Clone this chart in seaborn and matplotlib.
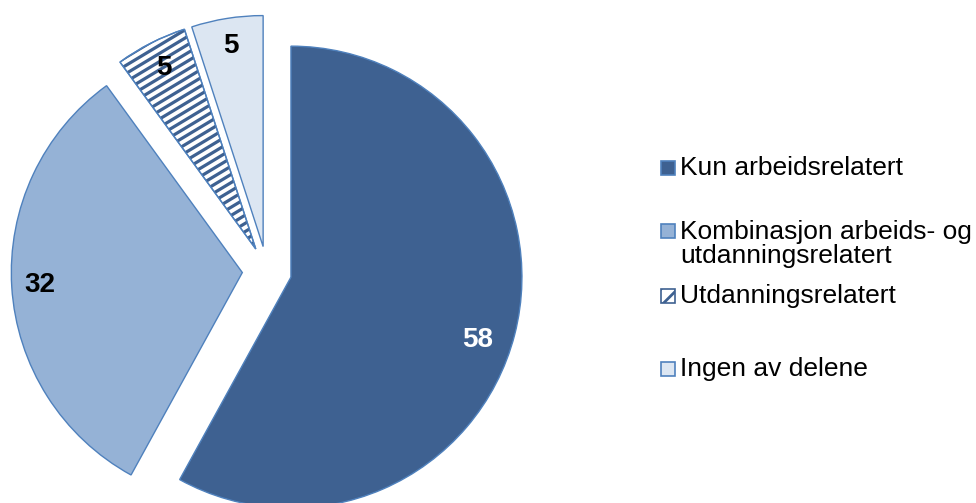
import numpy as np
import matplotlib.pyplot as plt
from matplotlib.patches import Wedge, Rectangle
from matplotlib.collections import LineCollection
import seaborn as sns

# ── Data ──────────────────────────────
CATEGORIES = ['Kun arbeidsrelatert',
              'Kombinasjon arbeids- og\nutdanningsrelatert',
              'Utdanningsrelatert',
              'Ingen av delene']
VALUES = [58, 32, 5, 5]

# ── Style ─────────────────────────────
COLORS = ['#3E6191', '#95B2D6', 'white', '#DCE6F2']
EDGE = '#4F81BD'
STRIPE = '#3E6191'
LABEL_COLORS = ['white', 'black', 'black', 'black']

sns.set_theme(style='white')
plt.rcParams['font.family'] = ['Liberation Sans', 'DejaVu Sans']
plt.rcParams['hatch.linewidth'] = 2.0

W, H = 976, 503
scale = 231.0          # px per pie radius
cx, cy = 267, 271      # pie centre in px (from top-left)

fig = plt.figure(figsize=(W / 100, H / 100), dpi=100)
fig.patch.set_facecolor('white')
ax = fig.add_axes([0, 0, 1, 1])

wedges, texts, autotexts = ax.pie(
    VALUES,
    colors=COLORS,
    startangle=90,
    counterclock=False,
    explode=[0.107] * len(VALUES),
    autopct=lambda p: f'{p:.0f}',
    pctdistance=0.88,
    wedgeprops=dict(edgecolor=EDGE, linewidth=1.0),
    textprops=dict(fontsize=20, fontweight='bold'),
)

for t, c in zip(autotexts, LABEL_COLORS):
    t.set_color(c)

# Excel puts the big label a bit lower / further in
px, py = autotexts[0].get_position()
autotexts[0].set_position((px - 10 / scale, py - 12 / scale))

# ── Striped slice: shallow diagonal stripes clipped to wedge ──
striped = wedges[2]
sx, sy = striped.center
r = striped.r
slope = np.tan(np.radians(31))
step = 8.2 / scale
b_lo = (sy - r) - slope * (sx + r)
b_hi = (sy + r) - slope * (sx - r)
segs = [[(sx - r, slope * (sx - r) + b), (sx + r, slope * (sx + r) + b)]
        for b in np.arange(b_lo, b_hi, step)]
stripes = LineCollection(segs, colors=STRIPE, linewidths=2.3, zorder=2)
ax.add_collection(stripes)
stripes.set_clip_path(striped)
ax.add_patch(Wedge(striped.center, striped.r, striped.theta1,
                   striped.theta2, fill=False, edgecolor=EDGE,
                   lw=1.0, zorder=3))

# ── Place pie ─────────────────────────
ax.set_xlim(-cx / scale, (W - cx) / scale)
ax.set_ylim(-(H - cy) / scale, cy / scale)
ax.set_aspect('equal')
ax.axis('off')

# ── Legend (Excel style spacing) ──────
row_y = [168, 231, 296, 369]
text_y = [168, 243.5, 296, 369]
for w, lab, ym, yt in zip(wedges, CATEGORIES, row_y, text_y):
    rect = Rectangle((661 / W, 1 - (ym + 7) / H), 14 / W, 14 / H,
                     transform=fig.transFigure,
                     facecolor=w.get_facecolor(),
                     edgecolor=EDGE, lw=1.2)
    if w is striped:
        rect.set_hatch('//')
        rect.set_edgecolor(STRIPE)
    fig.add_artist(rect)
    fig.text(680 / W, 1 - yt / H, lab, ha='left', va='center',
             fontsize=19, color='black', linespacing=1.0)

plt.savefig('out.png', dpi=100, facecolor='white')
plt.close()
